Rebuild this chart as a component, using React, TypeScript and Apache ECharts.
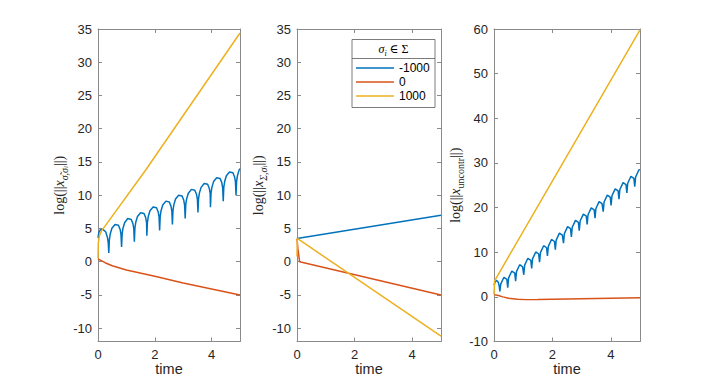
import React, { useEffect, useRef } from "react";
import * as echarts from "echarts";

const legendNames = ["-1000", "0", "1000"];
const colors = ["#0072BD", "#D95319", "#EDB120"];
const xTicks = [0, 2, 4];
const yTicksA = [-10, -5, 0, 5, 10, 15, 20, 25, 30, 35];
const yTicksC = [-10, 0, 10, 20, 30, 40, 50, 60];

const leftBlue = [
  [0, 3.6], [0.03, 4.4], [0.08, 4.8], [0.16, 4.9], [0.27, 4.5], [0.33, 3.7], [0.36, 2.9], [0.38, 1.3],
  [0.40, 3.30], [0.43, 4.16], [0.49, 5.03], [0.60, 5.60], [0.72, 5.48], [0.78, 4.85], [0.81, 4.11],
  [0.83, 2.2], [0.85, 4.19], [0.88, 5.04], [0.94, 5.91], [1.05, 6.49], [1.17, 6.36], [1.23, 5.73], [1.26, 4.99],
  [1.28, 3.0], [1.30, 5.07], [1.33, 5.93], [1.39, 6.79], [1.50, 7.37], [1.62, 7.25], [1.68, 6.61], [1.71, 5.87],
  [1.72, 3.9], [1.74, 5.93], [1.77, 6.79], [1.83, 7.66], [1.94, 8.23], [2.06, 8.11], [2.12, 7.48], [2.15, 6.73],
  [2.17, 4.7], [2.19, 6.81], [2.22, 7.67], [2.28, 8.54], [2.39, 9.11], [2.51, 8.99], [2.57, 8.36], [2.60, 7.62],
  [2.62, 5.6], [2.64, 7.69], [2.67, 8.55], [2.73, 9.42], [2.84, 10.0], [2.96, 9.87], [3.02, 9.24], [3.05, 8.50],
  [3.07, 6.5], [3.09, 8.58], [3.12, 9.44], [3.18, 10.30], [3.29, 10.88], [3.41, 10.75], [3.47, 10.12], [3.50, 9.38],
  [3.52, 7.4], [3.54, 9.46], [3.57, 10.32], [3.63, 11.18], [3.74, 11.76], [3.86, 11.64], [3.92, 11.0], [3.95, 10.26],
  [3.96, 8.2], [3.98, 10.32], [4.01, 11.18], [4.07, 12.05], [4.18, 12.62], [4.30, 12.50], [4.36, 11.87], [4.39, 11.12],
  [4.41, 9.1], [4.43, 11.20], [4.46, 12.06], [4.52, 12.93], [4.63, 13.50], [4.75, 13.38], [4.81, 12.75], [4.84, 12.01],
  [4.86, 10.0], [4.88, 12.08], [4.91, 12.94], [4.97, 13.81], [5.0, 14.0],
];
const leftRed = [
  [0, 0.4], [0.1, 0.2], [0.25, -0.15], [0.5, -0.6], [1, -1.25], [2, -2.2], [3, -3.2], [4, -4.1], [5, -5.0],
];
const leftYellow = [
  [0, 0.5], [0.01, 2.8], [0.05, 3.9], [0.12, 4.6], [1.68, 13.8], [5, 34.4],
];

const midBlue = [[0, 3.5], [5, 7.0]];
const midRed = [[0, 3.5], [0.03, 2.0], [0.09, 0.0], [5, -5.0]];
const midYellow = [[0, 0.8], [0.01, 3.5], [5, -11.2]];

const rightBlue = [
  [0, 2.6], [0.04, 3.4], [0.09, 3.7], [0.15, 3.2], [0.18, 2.4], [0.20, 1.2],
  [0.23, 2.84], [0.34, 4.39], [0.44, 3.93],
  [0.47, 2.08], [0.50, 4.24], [0.61, 5.79], [0.71, 5.33],
  [0.74, 3.49], [0.77, 5.64], [0.88, 7.20], [0.98, 6.74],
  [1.02, 4.94], [1.05, 7.10], [1.16, 8.65], [1.26, 8.19],
  [1.29, 6.35], [1.32, 8.50], [1.43, 10.06], [1.53, 9.60],
  [1.56, 7.75], [1.59, 9.91], [1.70, 11.46], [1.80, 11.0],
  [1.83, 9.16], [1.86, 11.31], [1.97, 12.86], [2.07, 12.40],
  [2.10, 10.56], [2.13, 12.72], [2.24, 14.27], [2.34, 13.81],
  [2.38, 12.02], [2.41, 14.17], [2.52, 15.72], [2.62, 15.26],
  [2.65, 13.42], [2.68, 15.58], [2.79, 17.13], [2.89, 16.67],
  [2.92, 14.82], [2.95, 16.98], [3.06, 18.53], [3.16, 18.07],
  [3.19, 16.23], [3.22, 18.38], [3.33, 19.94], [3.43, 19.48],
  [3.46, 17.63], [3.49, 19.79], [3.60, 21.34], [3.70, 20.88],
  [3.74, 19.09], [3.77, 21.24], [3.88, 22.80], [3.98, 22.34],
  [4.01, 20.49], [4.04, 22.65], [4.15, 24.20], [4.25, 23.74],
  [4.28, 21.90], [4.31, 24.05], [4.42, 25.60], [4.52, 25.14],
  [4.55, 23.30], [4.58, 25.46], [4.69, 27.01], [4.79, 26.55],
  [4.82, 24.70], [4.85, 26.86], [4.96, 28.41], [5.0, 28.5],
];
const rightRed = [
  [0, 0.5], [0.15, 0.3], [0.3, 0.0], [0.5, -0.3], [0.8, -0.55], [1.1, -0.62], [1.5, -0.6],
  [2, -0.52], [3, -0.4], [4, -0.3], [5, -0.22],
];
const rightYellow = [[0, 0.5], [0.02, 3.6], [5, 59.8]];

const panels = [
  { left: 98, width: 142, yMin: -12, yMax: 35, yTicks: yTicksA, data: [leftBlue, leftRed, leftYellow],
    name: "{n|log(||}{i|x}{s|σ̃,σ}{ss|i}{n|||)}" },
  { left: 297, width: 144, yMin: -12, yMax: 35, yTicks: yTicksA, data: [midBlue, midRed, midYellow],
    name: "{n|log(||}{i|x}{s|Σ,σ}{ss|i}{n|||)}" },
  { left: 494, width: 146, yMin: -10, yMax: 60, yTicks: yTicksC, data: [rightBlue, rightRed, rightYellow],
    name: "{n|log(||}{i|x}{r|uncontr}{n|||)}" },
];

const TXT = "#262626";
const AX = "#8a8a8a";
const SANS = "'Liberation Sans', Arial, Helvetica, sans-serif";
const SERIF = "'Liberation Serif', 'DejaVu Serif', serif";

const rich = {
  n: { fontFamily: SERIF, fontSize: 14, lineHeight: 20, color: TXT },
  i: { fontFamily: SERIF, fontStyle: "italic", fontSize: 14, lineHeight: 20, color: TXT },
  s: { fontFamily: SERIF, fontStyle: "italic", fontSize: 10, lineHeight: 11, verticalAlign: "bottom", color: TXT },
  r: { fontFamily: SERIF, fontSize: 10, lineHeight: 11, verticalAlign: "bottom", color: TXT },
  ss: { fontFamily: SERIF, fontStyle: "italic", fontSize: 7, lineHeight: 6, verticalAlign: "bottom", color: TXT },
};

export default function App() {
  const ref = useRef<HTMLDivElement>(null);
  useEffect(() => {
    if (!ref.current) return;
    const chart = echarts.init(ref.current, undefined, { renderer: "svg" });
    const grid: any[] = [];
    const xAxis: any[] = [];
    const yAxis: any[] = [];
    const series: any[] = [];
    const axisLine = { show: true, onZero: false, lineStyle: { color: AX, width: 1 } };
    const tick = (vals: number[]) => ({ show: true, inside: true, length: 4, lineStyle: { color: AX }, customValues: vals });
    panels.forEach((p, gi) => {
      grid.push({ left: p.left, width: p.width, top: 29, height: 312.5, containLabel: false });
      xAxis.push({
        type: "value", gridIndex: gi, position: "bottom", min: 0, max: 5,
        axisLine, axisTick: tick(xTicks), splitLine: { show: false },
        axisLabel: { customValues: xTicks, color: TXT, fontFamily: SANS, fontSize: 13, margin: 6 },
        name: "time", nameLocation: "middle", nameGap: 20, nameMoveOverlap: false,
        nameTextStyle: { color: TXT, fontFamily: SANS, fontSize: 14.5, verticalAlign: "top" },
      });
      xAxis.push({
        type: "value", gridIndex: gi, position: "top", min: 0, max: 5,
        axisLine, axisTick: tick(xTicks), splitLine: { show: false }, axisLabel: { show: false },
      });
      yAxis.push({
        type: "value", gridIndex: gi, position: "left", min: p.yMin, max: p.yMax,
        axisLine, axisTick: tick(p.yTicks), splitLine: { show: false },
        axisLabel: { customValues: p.yTicks, color: TXT, fontFamily: SANS, fontSize: 13, margin: 6 },
        name: p.name, nameLocation: "middle", nameGap: 26, nameRotate: 90,
        nameTextStyle: { rich },
      });
      yAxis.push({
        type: "value", gridIndex: gi, position: "right", min: p.yMin, max: p.yMax,
        axisLine, axisTick: tick(p.yTicks), splitLine: { show: false }, axisLabel: { show: false },
      });
      p.data.forEach((d, si) => {
        series.push({
          type: "line", name: legendNames[si], xAxisIndex: gi * 2, yAxisIndex: gi * 2,
          data: d, showSymbol: false, symbol: "none", clip: true,
          lineStyle: { color: colors[si], width: 1.5 }, itemStyle: { color: colors[si] },
        });
      });
    });
    chart.setOption({
      animation: false,
      backgroundColor: "#ffffff",
      grid, xAxis, yAxis, series,
      legend: {
        data: legendNames.map((n) => ({ name: n, icon: "rect" })),
        orient: "vertical", left: 356, top: 62, padding: 0,
        itemWidth: 38, itemHeight: 1.6, itemGap: 2, z: 10,
        textStyle: { color: "#000", fontFamily: SANS, fontSize: 12, padding: [0, 0, 0, 0] },
        selectedMode: false,
      },
      graphic: [
        { type: "rect", z: 6, shape: { x: 352, y: 39.5, width: 83, height: 68 }, style: { fill: "#fff", stroke: "#5a5a5a", lineWidth: 0.8 } },
        { type: "line", z: 7, shape: { x1: 352, y1: 58.5, x2: 435, y2: 58.5 }, style: { stroke: "#5a5a5a", lineWidth: 0.8 } },
        {
          type: "text", z: 7, x: 393.5, y: 49,
          style: {
            text: "{i|σ}{s|i}{n| ∈ Σ}", align: "center", verticalAlign: "middle",
            rich: {
              i: { fontFamily: SERIF, fontStyle: "italic", fontSize: 12, lineHeight: 16, fill: "#000" },
              s: { fontFamily: SERIF, fontStyle: "italic", fontSize: 8, lineHeight: 8, verticalAlign: "bottom", fill: "#000" },
              n: { fontFamily: SERIF, fontSize: 12, lineHeight: 16, fill: "#000" },
            },
          },
        },
      ],
    });
    return () => chart.dispose();
  }, []);
  return <div ref={ref} style={{ position: "fixed", left: 0, top: 0, width: 706, height: 385 }} />;
}
